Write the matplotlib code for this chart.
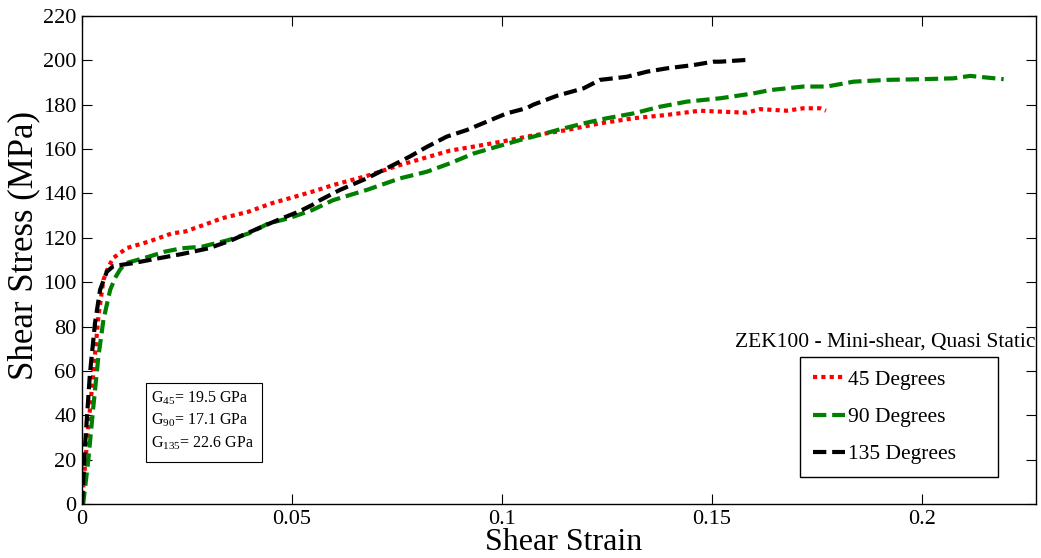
import matplotlib
matplotlib.use("Agg")
import matplotlib.pyplot as plt
from matplotlib.patches import Rectangle

plt.rcParams['font.family'] = ['Liberation Serif', 'DejaVu Serif']
plt.rcParams['mathtext.fontset'] = 'custom'
plt.rcParams['mathtext.rm'] = 'Liberation Serif'
plt.rcParams['mathtext.it'] = 'Liberation Serif'
plt.rcParams['mathtext.bf'] = 'Liberation Serif'

# ---- data ----
strain_45 = [0, 0.0003, 0.0015, 0.0027, 0.0039, 0.0051, 0.0063, 0.0075, 0.0107, 0.0159,
             0.0214, 0.0245, 0.0293, 0.0333, 0.0397, 0.0452, 0.0508, 0.0548, 0.0598, 0.0678,
             0.0757, 0.0797, 0.0876, 0.0956, 0.1011, 0.1067, 0.1154, 0.1233, 0.1313, 0.1392,
             0.1471, 0.1519, 0.1582, 0.1614, 0.1678, 0.1717, 0.1757, 0.1771]
stress_45 = [0, 7.8, 34.8, 59, 84.5, 101, 107, 111, 115.4, 118.3,
             122, 122.8, 126, 128.8, 131.8, 135.6, 138.6, 140.8, 143.8, 147.9,
             152.8, 155, 159.3, 161.9, 163.8, 165.9, 168.6, 171.6, 173.9, 175.4,
             177.3, 176.9, 176.4, 178, 177.3, 178.4, 178.4, 177.3]

strain_90 = [0, 0.0003, 0.0015, 0.0027, 0.0039, 0.0051, 0.0067, 0.0079, 0.0090, 0.0103,
             0.0122, 0.0159, 0.0198, 0.0238, 0.0286, 0.0349, 0.0397, 0.0444, 0.0492, 0.0548,
             0.0598, 0.0678, 0.0757, 0.0821, 0.0876, 0.0932, 0.0995, 0.1043, 0.1074, 0.1138,
             0.1194, 0.1249, 0.1313, 0.1376, 0.1440, 0.1519, 0.1598, 0.1638, 0.1717, 0.1773,
             0.1837, 0.1916, 0.1995, 0.2075, 0.2114, 0.2194]
stress_90 = [0, 0.3, 19.8, 43.9, 66.4, 83, 96.5, 102, 105.5, 108.5,
             109.5, 111.5, 113.8, 115.3, 116, 119, 122, 126.5, 128.8, 132.5,
             137, 141.6, 146.8, 149.8, 153.6, 158, 161.5, 164.1, 165.6, 168.9,
             171.6, 173.9, 176.1, 179.1, 181.4, 182.9, 185.1, 186.6, 188.2, 188.2,
             190.4, 191.2, 191.5, 191.9, 193, 191.5]

strain_135 = [0, 0.0007, 0.0019, 0.0031, 0.0043, 0.0059, 0.0075, 0.0119, 0.0183, 0.0238,
              0.0302, 0.0357, 0.0420, 0.0476, 0.0516, 0.0548, 0.0567, 0.0614, 0.0678, 0.0725,
              0.0780, 0.0821, 0.0868, 0.0916, 0.0964, 0.1011, 0.1059, 0.1074, 0.1130, 0.1194,
              0.1233, 0.1297, 0.1345, 0.1392, 0.1456, 0.1503, 0.1519, 0.1582]
stress_135 = [0, 25.8, 59, 81.6, 96.5, 104.7, 107.3, 108.5, 110.8, 112.7,
              115.3, 119, 124.3, 128.8, 131.8, 134.8, 137, 141.6, 146.8, 151.3,
              156.6, 161, 165.6, 168.6, 172.4, 176.1, 178.5, 180, 184, 187.4,
              191.2, 192.6, 194.9, 196.4, 197.9, 199.4, 199.4, 200.2]

labels = ['45 Degrees', '90 Degrees', '135 Degrees']
x_ticks = [0, 0.05, 0.1, 0.15, 0.2]
x_tick_labels = ['0', '0.05', '0.1', '0.15', '0.2']
y_ticks = list(range(0, 221, 20))
moduli = [('45', '19.5'), ('90', '17.1'), ('135', '22.6')]

# ---- figure ----
fig = plt.figure(figsize=(10.41, 5.58), dpi=100)
ax = fig.add_axes([82/1041, 54/558, 954/1041, 488/558])

lw = 3.0
ax.plot(strain_45, stress_45, color='#ff0000', lw=lw, dashes=(1, 1.0),
        dash_capstyle='butt', label=labels[0])
ax.plot(strain_90, stress_90, color='#008000', lw=lw, dashes=(3.2, 1.4),
        dash_capstyle='butt', label=labels[1])
ax.plot(strain_135, stress_135, color='black', lw=lw, dashes=(3.2, 1.4),
        dash_capstyle='butt', label=labels[2])

ax.set_xlim(0, 0.2271)
ax.set_ylim(0, 220)
ax.set_xticks(x_ticks)
ax.set_xticklabels(x_tick_labels)
ax.set_yticks(y_ticks)
ax.tick_params(direction='in', top=True, right=True, length=7, width=0.8,
               labelsize=16, pad=4)
for s in ax.spines.values():
    s.set_linewidth(1.0)

ax.set_xlabel('Shear Strain', fontsize=23)
ax.set_ylabel('Shear Stress (MPa)', fontsize=25)
ax.xaxis.set_label_coords(0.505, -0.049)
ax.yaxis.set_label_coords(-0.044, 0.53)

# legend
leg = ax.legend(loc='upper left',
                bbox_to_anchor=((800-82)/954, (504-475)/488, (998-800)/954, (475-357)/488),
                mode='expand', borderaxespad=0, fontsize=15.5, handlelength=1.5,
                handletextpad=0.15, labelspacing=0.79, borderpad=0.6,
                fancybox=False, framealpha=1, edgecolor='black')
leg.get_frame().set_linewidth(1.0)

ax.text(0.999, (504-342)/488, 'ZEK100 - Mini-shear, Quasi Static', transform=ax.transAxes,
        ha='right', va='center', fontsize=15.5)

# moduli box
ax.add_patch(Rectangle(((146-82)/954, (504-462)/488), (262-146)/954, (462-383)/488,
                       transform=ax.transAxes, fill=False, edgecolor='black', lw=0.8))
for i, (ang, val) in enumerate(moduli):
    ax.text((151-82)/954, (504-(398 + 22.5*i))/488,
            'G$_{\\mathrm{%s}}$= %s GPa' % (ang, val),
            transform=ax.transAxes, ha='left', va='center', fontsize=11.5)

fig.savefig('out.png', dpi=100)
